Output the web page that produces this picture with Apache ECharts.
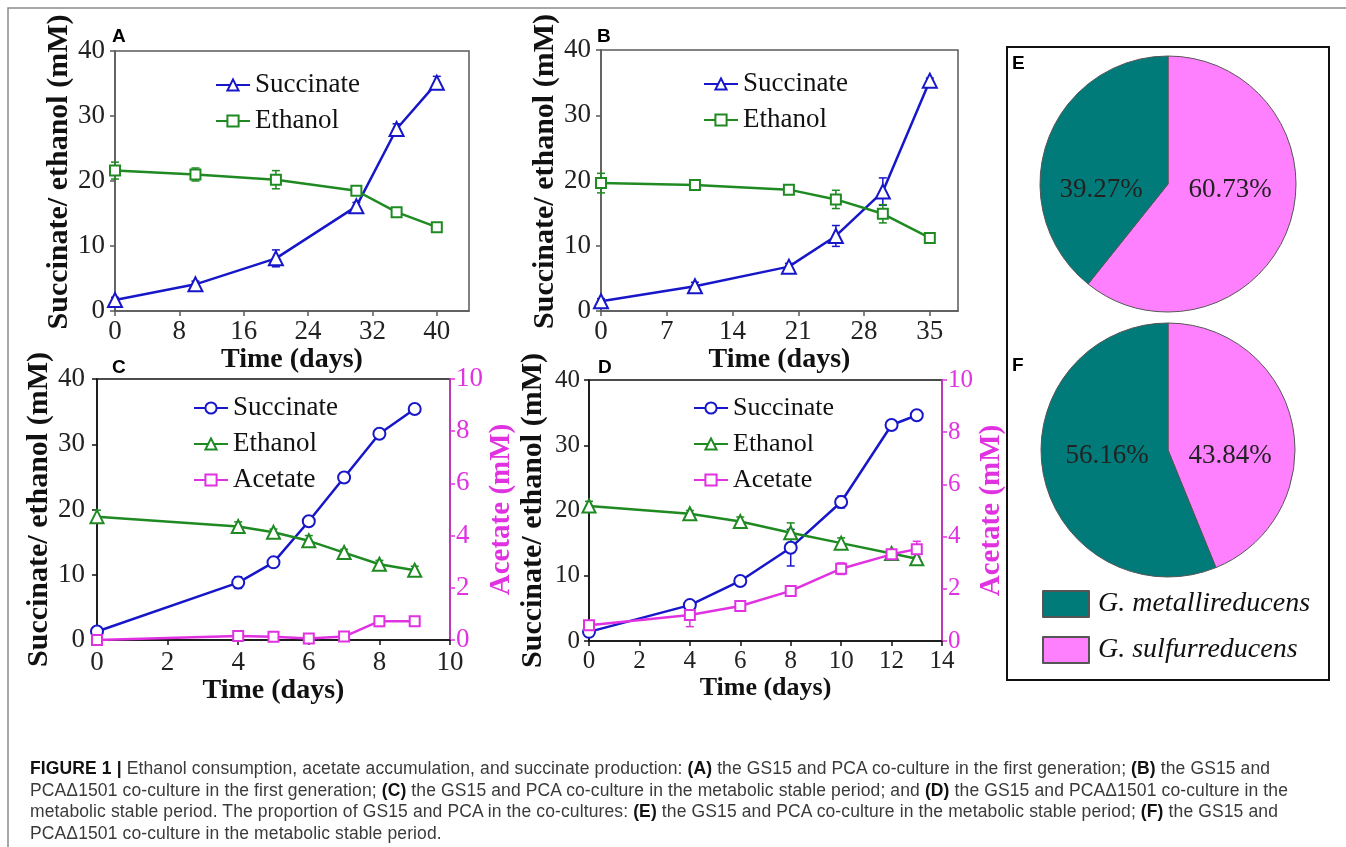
<!DOCTYPE html>
<html>
<head>
<meta charset="utf-8">
<title>Figure 1</title>
<script src="https://cdn.jsdelivr.net/npm/echarts@6.0.0/dist/echarts.min.js"></script>
<style>
  html, body { margin: 0; padding: 0; background: #fff; overflow: hidden; }
  #main { position: absolute; left: 0; top: 0; width: 1346px; height: 847px; }
  .caption {
    position: absolute; left: 30px; top: 758px;
    font-family: 'Liberation Sans', Arial, sans-serif; font-size: 17.5px; letter-spacing: 0.12px; line-height: 21.5px;
    color: #3a3a3a; white-space: nowrap;
  }
  .caption b { color: #111; }
</style>
</head>
<body>
<div id="main"></div>
<div class="caption">
<b>FIGURE 1 |</b> Ethanol consumption, acetate accumulation, and succinate production: <b>(A)</b> the GS15 and PCA co-culture in the first generation; <b>(B)</b> the GS15 and<br>
PCAΔ1501 co-culture in the first generation; <b>(C)</b> the GS15 and PCA co-culture in the metabolic stable period; and <b>(D)</b> the GS15 and PCAΔ1501 co-culture in the<br>
metabolic stable period. The proportion of GS15 and PCA in the co-cultures: <b>(E)</b> the GS15 and PCA co-culture in the metabolic stable period; <b>(F)</b> the GS15 and<br>
PCAΔ1501 co-culture in the metabolic stable period.
</div>
<script>
// ---- 数据：A 第一代 GS15 + PCA
const daysA = [0, 10, 20, 30, 35, 40]
const succA = [1.7, 4.1, 8.1, 16.1, 28.0, 35.1]
const succAErr = [0.4, 0.5, 1.3, 0.6, 0.8, 1.0]
const ethA = [21.6, 21.0, 20.2, 18.5, 15.2, 12.9]
const ethAErr = [1.3, 1.0, 1.4, 0.5, 0.4, 0.7]
const ticksA = [0, 8, 16, 24, 32, 40]

// ---- B 第一代 GS15 + PCAΔ1501
const daysB = [0, 10, 20, 25, 30, 35]
const succB = [1.5, 3.8, 6.8, 11.5, 18.3, 35.3]
const succBErr = [0.4, 0.6, 0.5, 1.6, 2.1, 0.4]
const ethB = [19.6, 19.3, 18.6, 17.1, 14.9, 11.2]
const ethBErr = [1.5, 0.4, 0.7, 1.4, 1.4, 0.4]
const ticksB = [0, 7, 14, 21, 28, 35]

// ---- C 稳定期 GS15 + PCA
const daysC = [0, 4, 5, 6, 7, 8, 9]
const succC = [1.3, 8.8, 11.9, 18.2, 24.9, 31.6, 35.4]
const succCErr = [0.3, 0.9, 0.5, 0.5, 0.6, 0.5, 0.4]
const ethC = [18.9, 17.4, 16.5, 15.2, 13.4, 11.6, 10.7]
const ethCErr = [1.0, 0.7, 0.5, 0.8, 0.5, 0.6, 0.6]
const acC = [0.0, 0.15, 0.12, 0.06, 0.13, 0.72, 0.72]
const acCErr = [0.05, 0.08, 0.08, 0.05, 0.05, 0.2, 0.08]
const ticksC = [0, 2, 4, 6, 8, 10]

// ---- D 稳定期 GS15 + PCAΔ1501
const daysD = [0, 4, 6, 8, 10, 12, 13]
const succD = [1.4, 5.5, 9.2, 14.3, 21.3, 33.1, 34.6]
const succDErr = [0.5, 0.4, 0.4, 2.8, 0.9, 0.3, 0.4]
const ethD = [20.7, 19.5, 18.3, 16.6, 15.0, 13.4, 12.6]
const ethDErr = [0.7, 0.5, 0.7, 1.5, 0.8, 0.3, 0.7]
const acD = [0.6, 1.0, 1.34, 1.92, 2.77, 3.32, 3.52]
const acDErr = [0.15, 0.45, 0.1, 0.1, 0.22, 0.1, 0.3]
const ticksD = [0, 2, 4, 6, 8, 10, 12, 14]

// ---- E / F 菌群比例 (%)
const species = ['G. metallireducens', 'G. sulfurreducens']
const shareE = [39.27, 60.73]
const shareF = [56.16, 43.84]

const serif = '"Liberation Serif", "Times New Roman", serif'
const sans = '"Liberation Sans", Arial, sans-serif'
const blue = '#1717c9'
const green = '#1f8a22'
const magenta = '#e032e0'
const teal = '#007b79'
const pink = '#ff80ff'

// 时间轴（x）
function timeAxis (gi, max, ticks, size, margin, gap, lineColor) {
  return {
    type: 'value', gridIndex: gi, min: 0, max: max,
    name: 'Time (days)', nameLocation: 'middle', nameGap: gap,
    nameTextStyle: { fontFamily: serif, fontWeight: 'bold', fontSize: size + 1, color: '#111' },
    axisLine: { show: true, onZero: false, lineStyle: { color: lineColor, width: 1.5 } },
    axisTick: { show: true, length: 5, customValues: ticks, lineStyle: { color: lineColor, width: 1.5 } },
    axisLabel: { customValues: ticks, margin: margin, fontFamily: serif, fontSize: size, color: '#222' },
    splitLine: { show: false }
  }
}

// 琥珀酸/乙醇浓度轴（左 y），shift 让名称往上挪一点
function concAxis (gi, size, margin, gap, lineColor, shift) {
  return {
    type: 'value', gridIndex: gi, position: 'left', min: 0, max: 40, interval: 10,
    name: 'Succinate/ ethanol (mM)', nameLocation: 'middle', nameGap: gap, nameRotate: 90,
    nameTextStyle: { fontFamily: serif, fontWeight: 'bold', fontSize: 30, color: '#111', padding: [0, 0, 0, shift] },
    axisLine: { show: true, lineStyle: { color: lineColor, width: 1.5 } },
    axisTick: { show: true, length: 5, lineStyle: { color: lineColor, width: 1.5 } },
    axisLabel: { margin: margin, fontFamily: serif, fontSize: size, color: '#222' },
    splitLine: { show: false }
  }
}

// 乙酸轴（右 y，品红色）
function acetateAxis (gi, size, margin, gap) {
  return {
    type: 'value', gridIndex: gi, position: 'right', min: 0, max: 10, interval: 2,
    name: 'Acetate (mM)', nameLocation: 'middle', nameGap: gap, nameRotate: 90,
    nameTextStyle: { fontFamily: serif, fontWeight: 'bold', fontSize: 29, color: magenta },
    axisLine: { show: true, lineStyle: { color: magenta, width: 1.5 } },
    axisTick: { show: true, length: 5, lineStyle: { color: magenta, width: 1.5 } },
    axisLabel: { margin: margin, fontFamily: serif, fontSize: size, color: magenta },
    splitLine: { show: false }
  }
}

// 折线
function lineSeries (name, days, vals, xi, yi, color, symbol, size) {
  return {
    name: name, type: 'line', xAxisIndex: xi, yAxisIndex: yi,
    data: days.map((d, i) => [d, vals[i]]),
    symbol: symbol, symbolSize: size,
    lineStyle: { color: color, width: 2.5 },
    itemStyle: { color: color, borderColor: color, borderWidth: 2 },
    z: 4
  }
}

// 误差线，自定义系列
function errSeries (days, vals, errs, xi, yi, color) {
  return {
    type: 'custom', xAxisIndex: xi, yAxisIndex: yi, silent: true, z: 3,
    data: days.map((d, i) => [d, vals[i], errs[i]]),
    renderItem: function (params, api) {
      let x = api.value(0)
      let y = api.value(1)
      let e = api.value(2)
      let top = api.coord([x, y + e])
      let bot = api.coord([x, y - e])
      let w = 4
      let st = { stroke: color, lineWidth: 1.5 }
      return {
        type: 'group',
        children: [
          { type: 'line', shape: { x1: top[0], y1: top[1], x2: bot[0], y2: bot[1] }, style: st },
          { type: 'line', shape: { x1: top[0] - w, y1: top[1], x2: top[0] + w, y2: top[1] }, style: st },
          { type: 'line', shape: { x1: bot[0] - w, y1: bot[1], x2: bot[0] + w, y2: bot[1] }, style: st }
        ]
      }
    }
  }
}

function lineLegend (left, top, names, size) {
  return {
    left: left, top: top, orient: 'vertical', itemWidth: 34, itemHeight: 14, itemGap: 8,
    selectedMode: false, data: names,
    formatter: n => n.trim(),
    textStyle: { fontFamily: serif, fontSize: size, lineHeight: 28, color: '#111' }
  }
}

// 饼图
function pieSeries (cx, cy, r, share, offsets) {
  return {
    type: 'pie', center: [cx, cy], radius: r, startAngle: 90, clockwise: true, silent: true,
    data: [
      { name: species[1], value: share[1], itemStyle: { color: pink } },
      { name: species[0], value: share[0], itemStyle: { color: teal } }
    ],
    itemStyle: { borderColor: '#555', borderWidth: 1 },
    label: {
      show: true, position: 'inside', formatter: p => p.value.toFixed(2) + '%',
      fontFamily: serif, fontSize: 27, color: '#222'
    },
    labelLine: { show: false },
    labelLayout: function (p) {
      return { x: cx + offsets[p.dataIndex], y: cy + 6, align: 'center', verticalAlign: 'middle' }
    }
  }
}

function letter (t, x, y) {
  return {
    type: 'text', left: x, top: y,
    style: { text: t, fontFamily: sans, fontWeight: 'bold', fontSize: 19, fill: '#000' }
  }
}

let mychart = echarts.init(document.getElementById('main'))

let option = {
  animation: false,
  grid: [
    { left: 115, top: 51, width: 354, height: 260, show: true, borderColor: '#5a5a5a', borderWidth: 1.5 },
    { left: 601, top: 50, width: 357, height: 261, show: true, borderColor: '#5a5a5a', borderWidth: 1.5 },
    { left: 97, top: 379, width: 353, height: 261, show: true, borderColor: '#111', borderWidth: 1.5 },
    { left: 589, top: 380, width: 353, height: 261, show: true, borderColor: '#111', borderWidth: 1.5 }
  ],
  xAxis: [
    timeAxis(0, 44, ticksA, 27, 7, 33, '#5a5a5a'),
    timeAxis(1, 38, ticksB, 27, 7, 33, '#5a5a5a'),
    timeAxis(2, 10, ticksC, 27, 9, 36, '#111'),
    timeAxis(3, 14, ticksD, 25, 8, 31, '#111')
  ],
  yAxis: [
    concAxis(0, 27, 10, 41, '#5a5a5a', 18),
    concAxis(1, 27, 10, 39, '#5a5a5a', 18),
    concAxis(2, 27, 12, 40, '#111', 0),
    acetateAxis(2, 27, 6, 25),
    concAxis(3, 25, 9, 41, '#111', 0),
    acetateAxis(3, 25, 6, 33)
  ],
  legend: [
    lineLegend(210, 66, ['Succinate', 'Ethanol'], 27),
    lineLegend(698, 65, ['Succinate', 'Ethanol'], 27),
    lineLegend(188, 389, ['Succinate ', 'Ethanol ', 'Acetate'], 27),
    lineLegend(688, 389, ['Succinate ', 'Ethanol ', 'Acetate'], 26),
    {
      left: 1037, top: 585, orient: 'vertical', icon: 'rect', itemWidth: 46, itemHeight: 26, itemGap: 18,
      selectedMode: false, data: species,
      textStyle: { fontFamily: serif, fontStyle: 'italic', fontSize: 28, lineHeight: 28, color: '#111', padding: [0, 0, 0, 4] }
    }
  ],
  series: [
    // A
    lineSeries('Succinate', daysA, succA, 0, 0, blue, 'emptyTriangle', 14),
    lineSeries('Ethanol', daysA, ethA, 0, 0, green, 'emptyRect', 10),
    errSeries(daysA, succA, succAErr, 0, 0, blue),
    errSeries(daysA, ethA, ethAErr, 0, 0, green),
    // B
    lineSeries('Succinate', daysB, succB, 1, 1, blue, 'emptyTriangle', 14),
    lineSeries('Ethanol', daysB, ethB, 1, 1, green, 'emptyRect', 10),
    errSeries(daysB, succB, succBErr, 1, 1, blue),
    errSeries(daysB, ethB, ethBErr, 1, 1, green),
    // C
    lineSeries('Succinate ', daysC, succC, 2, 2, blue, 'emptyCircle', 12),
    lineSeries('Ethanol ', daysC, ethC, 2, 2, green, 'emptyTriangle', 13),
    lineSeries('Acetate', daysC, acC, 2, 3, magenta, 'emptyRect', 10),
    errSeries(daysC, succC, succCErr, 2, 2, blue),
    errSeries(daysC, ethC, ethCErr, 2, 2, green),
    errSeries(daysC, acC, acCErr, 2, 3, magenta),
    // D
    lineSeries('Succinate ', daysD, succD, 3, 4, blue, 'emptyCircle', 12),
    lineSeries('Ethanol ', daysD, ethD, 3, 4, green, 'emptyTriangle', 13),
    lineSeries('Acetate', daysD, acD, 3, 5, magenta, 'emptyRect', 10),
    errSeries(daysD, succD, succDErr, 3, 4, blue),
    errSeries(daysD, ethD, ethDErr, 3, 4, green),
    errSeries(daysD, acD, acDErr, 3, 5, magenta),
    // E, F
    pieSeries(1168, 184, 128, shareE, [62, -67]),
    pieSeries(1168, 450, 127, shareF, [62, -61])
  ],
  graphic: [
    // 外框
    { type: 'polyline', shape: { points: [[8, 847], [8, 8], [1346, 8]] }, style: { stroke: '#8a8a8a', lineWidth: 1.5, fill: null } },
    // E/F 方框
    { type: 'rect', shape: { x: 1007, y: 47, width: 322, height: 633 }, style: { stroke: '#111', lineWidth: 2, fill: null } },
    letter('A', 112, 27),
    letter('B', 597, 27),
    letter('C', 112, 358),
    letter('D', 598, 358),
    letter('E', 1012, 54),
    letter('F', 1012, 356)
  ]
}

mychart.setOption(option)
</script>
</body>
</html>
